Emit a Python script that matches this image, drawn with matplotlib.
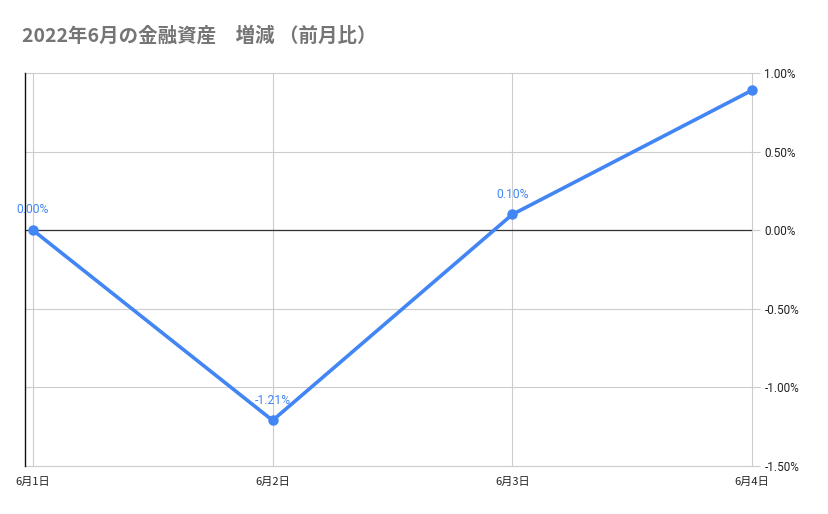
import matplotlib
matplotlib.use('Agg')
import matplotlib.pyplot as plt
from matplotlib.ticker import FuncFormatter

plt.rcParams['font.family'] = ['Noto Sans CJK JP', 'DejaVu Sans']

# data
days = ['6月1日', '6月2日', '6月3日', '6月4日']
change = [0.00, -1.21, 0.10, 0.89]
labels = ['0.00%', '-1.21%', '0.10%', None]
y_ticks = [-1.5, -1.0, -0.5, 0.0, 0.5, 1.0]

blue = '#4285F4'
grid_c = '#cccccc'

fig = plt.figure(figsize=(8.29, 5.14), dpi=100)
ax = fig.add_axes([25 / 829, 48 / 514, 727 / 829, 393 / 514])

x = list(range(len(days)))
ax.plot(x, change, color=blue, lw=2.6, marker='o', ms=6.5, zorder=4,
        solid_capstyle='round', clip_on=False)

for xi, yi, lab in zip(x, change, labels):
    if lab is None:
        continue
    ax.annotate(lab, (xi, yi), xytext=(0, 10), textcoords='offset points',
                ha='center', va='bottom', color=blue, fontsize=8.7,
                family=['Roboto', 'DejaVu Sans'])

ax.set_xlim(-0.033, 3.0)
ax.set_ylim(-1.5, 1.0)
ax.set_xticks(x)
ax.set_xticklabels(days, fontsize=8, color='#222222')
ax.set_yticks(y_ticks)
ax.yaxis.set_major_formatter(FuncFormatter(lambda v, p: '{:.2f}%'.format(v)))
ax.yaxis.tick_right()
for t in ax.get_yticklabels():
    t.set_family(['Roboto', 'DejaVu Sans'])
    t.set_fontsize(8.5)
    t.set_color('#222222')

ax.tick_params(axis='y', length=6, color=grid_c, width=0.8, pad=3)
ax.tick_params(axis='x', length=0, pad=8)

ax.grid(True, color=grid_c, lw=0.8)
for gl in ax.get_xgridlines() + ax.get_ygridlines():
    gl.set_clip_on(False)
ax.set_axisbelow(True)
ax.axhline(0, color='#333333', lw=0.9, zorder=2)

for s in ['top', 'right', 'bottom']:
    ax.spines[s].set_visible(False)
ax.spines['left'].set_color('#111111')
ax.spines['left'].set_linewidth(1.0)

fig.text(22 / 829, 1 - 36 / 514, '2022年6月の金融資産　増減 （前月比）', fontsize=14,
         fontweight='bold', color='#757575', va='center', ha='left')

fig.savefig('out.png', dpi=100)
